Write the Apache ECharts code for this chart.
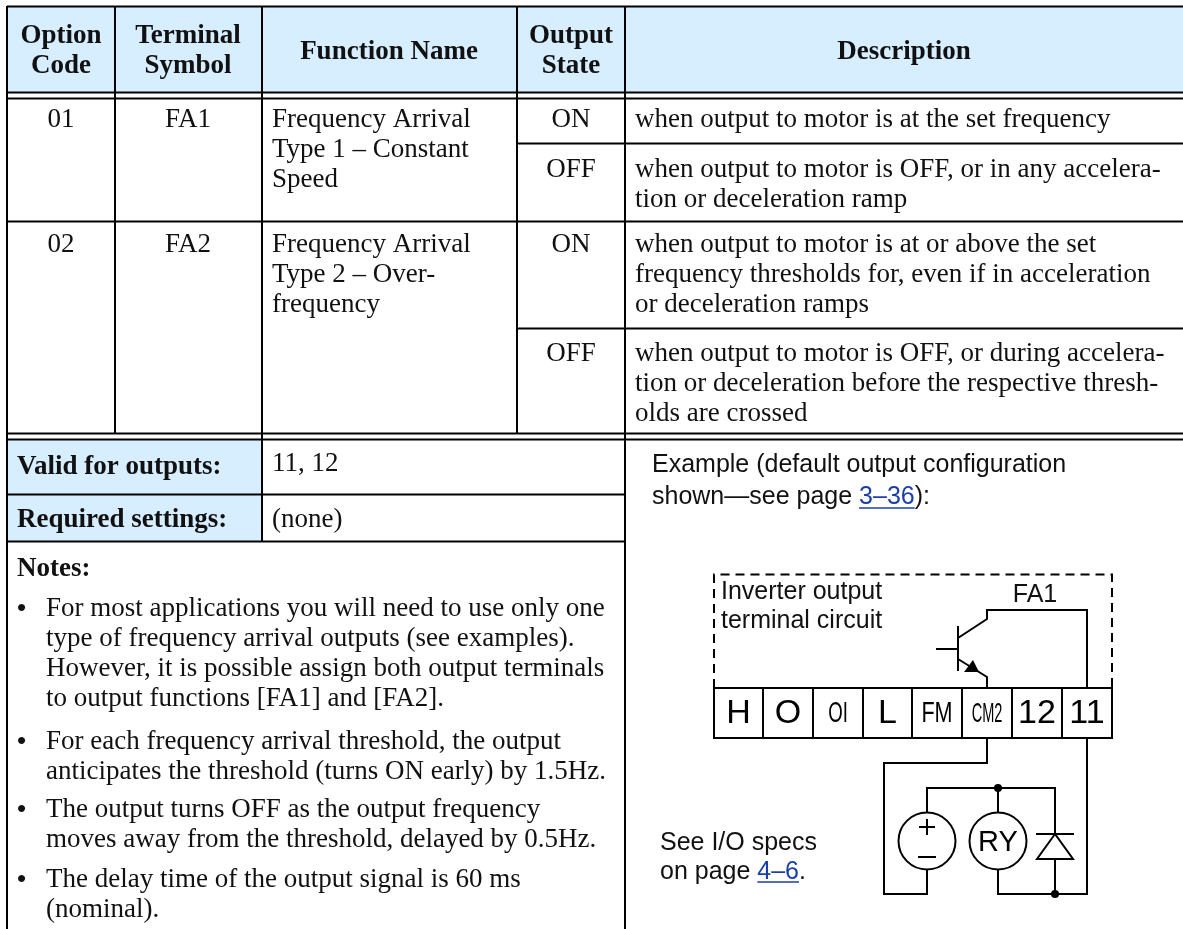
<!DOCTYPE html>
<html><head><meta charset="utf-8">
<style>html,body{margin:0;padding:0;background:#fff}#c{width:1183px;height:929px}</style>
<script src="https://cdn.jsdelivr.net/npm/echarts@6/dist/echarts.min.js"></script>
</head><body><div id="c"></div>
<script>
const headerOption=['Option','Code'];
const headerTerminal=['Terminal','Symbol'];
const headerFunction=['Function Name'];
const headerState=['Output','State'];
const headerDescription=['Description'];
const optionCodes=['01','02'];
const terminalSymbols=['FA1','FA2'];
const functionNames=[['Frequency Arrival','Type 1 – Constant','Speed'],['Frequency Arrival','Type 2 – Over-','frequency']];
const outputStates=['ON','OFF','ON','OFF'];
const descriptions=[
 ['when output to motor is at the set frequency'],
 ['when output to motor is OFF, or in any accelera-','tion or deceleration ramp'],
 ['when output to motor is at or above the set','frequency thresholds for, even if in acceleration','or deceleration ramps'],
 ['when output to motor is OFF, or during accelera-','tion or deceleration before the respective thresh-','olds are crossed']];
const validLabel='Valid for outputs:';const validValue='11, 12';
const requiredLabel='Required settings:';const requiredValue='(none)';
const notesLabel='Notes:';
const notes=[
 ['For most applications you will need to use only one','type of frequency arrival outputs (see examples).','However, it is possible assign both output terminals','to output functions [FA1] and [FA2].'],
 ['For each frequency arrival threshold, the output','anticipates the threshold (turns ON early) by 1.5Hz.'],
 ['The output turns OFF as the output frequency','moves away from the threshold, delayed by 0.5Hz.'],
 ['The delay time of the output signal is 60 ms','(nominal).']];
const exampleLine1='Example (default output configuration';
const exampleLine2='shown—see page ';const exampleLink='3–36';const exampleEnd='):';
const circuitLabel=['Inverter output','terminal circuit'];
const outputName='FA1';
const terminals=['H','O','OI','L','FM','CM2','12','11'];
const relayLabel='RY';
const specLine1='See I/O specs';const specLine2='on page ';const specLink='4–6';const specEnd='.';

/* layout */
const SERIF='"Liberation Serif","Times New Roman",serif', SANS='"Liberation Sans",Arial,sans-serif';
const FS=27, SFS=25, LH=30, INK='#111', BLUE='#d6eeff', LINK='#1a3fa8', DY=2;
const g=[];
const rect=(x,y,w,h,fill)=>g.push({type:'rect',shape:{x,y,width:w,height:h},style:{fill}});
const seg=(x1,y1,x2,y2,lw=2,c='#000')=>g.push({type:'line',shape:{x1,y1,x2,y2},style:{stroke:c,lineWidth:lw}});
const poly=(pts,lw=2)=>g.push({type:'polyline',shape:{points:pts},style:{stroke:'#000',lineWidth:lw,fill:null}});
function txt(s,x,y,o={}){
  g.push({type:'text',x,y:y+DY,scaleX:o.sx||1,style:{x:0,y:0,text:s,fontFamily:o.ff||SERIF,fontSize:o.fs||FS,fontWeight:o.b?'bold':'normal',fill:o.c||INK,align:o.a||'left',verticalAlign:'middle'}});
}
const stack=(lines,x,y,o)=>lines.forEach((s,i)=>txt(s,x,y+i*LH,o));
const ctx=document.createElement('canvas').getContext('2d');
const width=(s,fs,ff)=>{ctx.font=fs+'px '+ff;return ctx.measureText(s).width;};

/* fills */
rect(7,7,1176,86,BLUE);
rect(7,440,255,102,BLUE);

/* table rules */
const L=7,C1=115,C2=262,C3=517,C4=625,R=1183;
seg(L,6,L,929);
seg(L,6.5,R,6.5);
seg(L,92.5,R,92.5);seg(L,98.5,R,98.5);
seg(C3,143.5,R,143.5);
seg(L,221.5,R,221.5);
seg(C3,328.5,R,328.5);
seg(L,433.5,R,433.5);seg(L,439.5,R,439.5);
seg(L,494.5,C4,494.5);seg(L,541.5,C4,541.5);
seg(C1,6,C1,434);seg(C2,6,C2,542);seg(C3,6,C3,434);seg(C4,6,C4,929);

/* header */
const HB={b:true,a:'center'};
stack(headerOption,61,34,HB);stack(headerTerminal,188,34,HB);
stack(headerFunction,389,50,HB);stack(headerState,571,34,HB);
stack(headerDescription,904,50,HB);

/* body */
const rowY=[118,243],stateY=[118,168,243,352],descY=[118,168,243,352];
const C={a:'center'};
optionCodes.forEach((v,i)=>txt(v,61,rowY[i],C));
terminalSymbols.forEach((v,i)=>txt(v,188,rowY[i],C));
functionNames.forEach((v,i)=>stack(v,272,rowY[i]));
outputStates.forEach((v,i)=>txt(v,571,stateY[i],C));
descriptions.forEach((v,i)=>stack(v,635,descY[i]));

txt(validLabel,17,465,{b:true});txt(validValue,272,462);
txt(requiredLabel,17,518,{b:true});txt(requiredValue,272,518);
txt(notesLabel,17,567,{b:true});
const noteY=[607,740,808,878];
notes.forEach((v,i)=>{txt('•',17,noteY[i],{fs:26,b:true});stack(v,46,noteY[i]);});

/* example text */
const SA={ff:SANS,fs:SFS};
txt(exampleLine1,652,463,SA);
txt(exampleLine2,652,495,SA);
const ex=652+width(exampleLine2,SFS,SANS), exw=width(exampleLink,SFS,SANS);
txt(exampleLink,ex,495,{ff:SANS,fs:SFS,c:LINK});seg(ex,508,ex+exw,508,1.5,LINK);
txt(exampleEnd,ex+exw,495,SA);

/* dashed enclosure */
g.push({type:'polyline',shape:{points:[[714,688],[714,574.5],[1112,574.5],[1112,688]]},style:{stroke:'#000',lineWidth:2,lineDash:[9,6],fill:null}});
txt(circuitLabel[0],721,590,SA);txt(circuitLabel[1],721,619,SA);
txt(outputName,1035,593,{ff:SANS,fs:SFS,a:'center'});

/* terminal strip */
const TX=[714,763,813,863,912,962,1012,1062,1112];
seg(713,688,1113,688);seg(713,738,1113,738);
TX.forEach(x=>seg(x,688,x,738));
const termSX=[1,1,0.62,1,0.72,0.52,1,1];
const termFS=[34,34,30,34,30,28,34,34];
terminals.forEach((t,i)=>txt(t,(TX[i]+TX[i+1])/2,712,{ff:SANS,fs:termFS[i],a:'center',sx:termSX[i],c:'#000'}));

/* transistor */
seg(958,626,958,671);seg(936,649,958,649);
poly([[958,638],[987,619],[987,610],[1087,610],[1087,688]]);
poly([[958,659],[987,677],[987,688]]);
g.push({type:'polygon',shape:{points:[[964,672],[973,660],[979,672]]},style:{fill:'#000'}});

/* external loop */
poly([[987,738],[987,763],[884,763],[884,894],[927,894],[927,870]]);
poly([[927,813],[927,788],[1055,788],[1055,834]]);
seg(998,788,998,813);
poly([[998,870],[998,894],[1087,894],[1087,738]]);
seg(1055,859,1055,894);
const circle=(cx,cy,r)=>g.push({type:'circle',shape:{cx,cy,r},style:{stroke:'#000',lineWidth:2,fill:'#fff'}});
circle(927,841,28.5);circle(998,841,28.5);
const dot=(cx,cy)=>g.push({type:'circle',shape:{cx,cy,r:4},style:{fill:'#000'}});
dot(998,788);dot(1055,894);
seg(1036,834,1074,834);
g.push({type:'polygon',shape:{points:[[1055,834],[1037,859],[1073,859]]},style:{stroke:'#000',lineWidth:2,fill:'#fff'}});
seg(919,827,935,827);seg(927,819,927,835);seg(918,857,936,857);
txt(relayLabel,998,841,{ff:SANS,fs:29,a:'center',c:'#000'});

/* spec note */
txt(specLine1,660,841,SA);
txt(specLine2,660,870,SA);
const sx=660+width(specLine2,SFS,SANS), sxw=width(specLink,SFS,SANS);
txt(specLink,sx,870,{ff:SANS,fs:SFS,c:LINK});seg(sx,882,sx+sxw,882,1.5,LINK);
txt(specEnd,sx+sxw,870,SA);

const chart=echarts.init(document.getElementById('c'),null,{renderer:'canvas'});
chart.setOption({animation:false,backgroundColor:'#fff',graphic:{elements:g}});
</script></body></html>
